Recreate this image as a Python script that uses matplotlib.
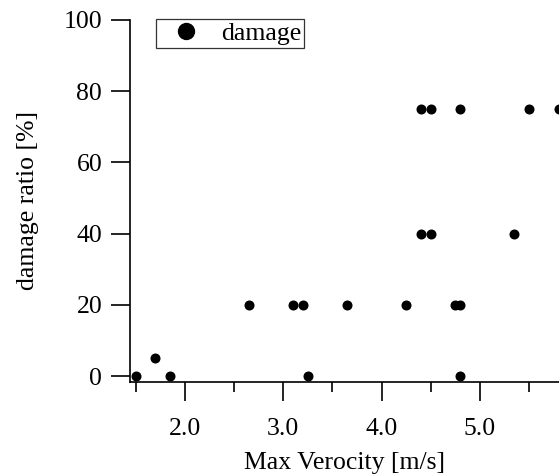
import matplotlib
matplotlib.use("Agg")
import matplotlib.pyplot as plt
from matplotlib.ticker import FixedLocator, FormatStrFormatter

velocity = [1.50, 1.70, 1.85, 2.65, 3.10, 3.20, 3.25, 3.65, 4.25,
            4.40, 4.50, 4.80, 5.50, 5.80,
            4.40, 4.50, 5.35,
            4.75, 4.80, 4.80]
damage = [0, 5, 0, 20, 20, 20, 0, 20, 20,
          75, 75, 75, 75, 75,
          40, 40, 40,
          20, 20, 0]
x_major = [2.0, 3.0, 4.0, 5.0]
x_minor = [1.5, 2.5, 3.5, 4.5, 5.5]
y_ticks = [0, 20, 40, 60, 80, 100]

plt.rcParams['font.family'] = ['Liberation Serif', 'DejaVu Serif']
FS = 18.5

W, H = 559, 475
fig = plt.figure(figsize=(W / 100, H / 100), dpi=100)
ax = fig.add_axes([130 / W, 1 - 382 / H, (W - 130) / W, (382 - 20) / H])

ax.plot(velocity, damage, 'o', color='black', markersize=6.2, ls='none',
        label='damage', clip_on=False)

ax.set_xlim(1.4407, 5.8035)
ax.set_ylim(-1.685, 100)

ax.xaxis.set_major_locator(FixedLocator(x_major))
ax.xaxis.set_minor_locator(FixedLocator(x_minor))
ax.xaxis.set_major_formatter(FormatStrFormatter('%.1f'))
ax.yaxis.set_major_locator(FixedLocator(y_ticks))

for s in ['top', 'right']:
    ax.spines[s].set_visible(False)
for s in ['left', 'bottom']:
    ax.spines[s].set_linewidth(1.2)
ax.spines['left'].set_bounds(-1.685, 100)

ax.tick_params(axis='x', which='major', direction='out', length=13.5, width=1.2,
               labelsize=FS, pad=12.3)
ax.tick_params(axis='x', which='minor', direction='out', length=7, width=1.2)
ax.tick_params(axis='y', which='major', direction='out', length=13.5, width=1.2,
               labelsize=FS, pad=6.5)

ax.set_xlabel('Max Verocity [m/s]', fontsize=FS, labelpad=8.5)
ax.set_ylabel('damage ratio [%]', fontsize=FS, labelpad=18)

leg = ax.legend(loc='upper left', bbox_to_anchor=(156 / W, 1 - 19 / H),
                bbox_transform=fig.transFigure, borderaxespad=0,
                fontsize=FS, markerscale=1.85, fancybox=False, framealpha=1,
                borderpad=0.12, handlelength=2.1, handletextpad=0.3)
leg.get_frame().set_edgecolor('#333333')
leg.get_frame().set_linewidth(0.9)

fig.savefig('out.png', dpi=100)
